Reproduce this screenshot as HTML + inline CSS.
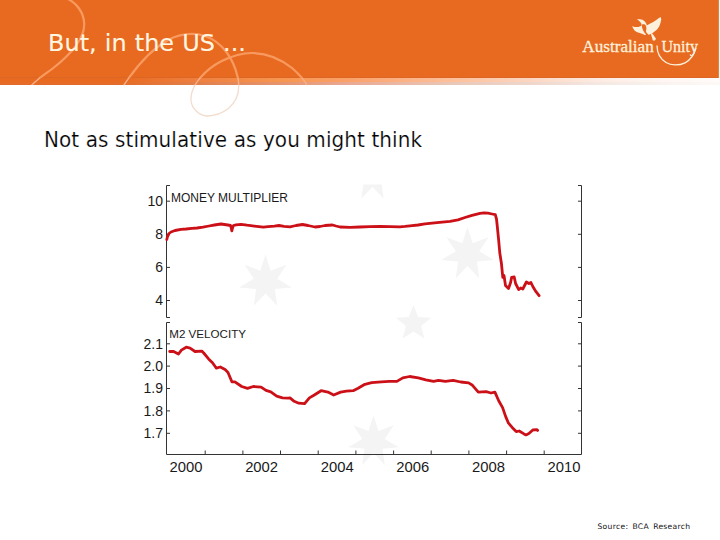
<!DOCTYPE html>
<html><head><meta charset="utf-8">
<style>
html,body{margin:0;padding:0;background:#fff;}
body{width:720px;height:540px;position:relative;overflow:hidden;}
#hdr{position:absolute;left:0;top:0;width:718px;height:78px;background:#e86a20;}
#band{position:absolute;left:0;top:78px;width:720px;height:4px;
 background:linear-gradient(90deg,#e86a20 0px,#e86a20 120px,#ef8040 200px,#f7964f 280px,#fa9f66 340px,#fcb084 400px,#fdc29e 460px,#fcd6c2 530px,#fdebe2 600px,#fef6f2 660px,#fffbf9 720px);}
#band2{position:absolute;left:0;top:82px;width:720px;height:3px;
 background:linear-gradient(90deg,#e56c28 0px,#e56c28 120px,#e2804c 200px,#e6946e 280px,#e9a690 340px,#eab8a4 400px,#eac9ba 460px,#eed6cc 530px,#f5e8e2 600px,#faf2ee 660px,#fdf9f7 720px);}
#hline{position:absolute;left:0;top:77px;width:718px;height:1px;background:#dc6626;}
#redge{position:absolute;left:718px;top:0;width:2px;height:78px;background:linear-gradient(90deg,#c98a5c 0,#c98a5c 1px,#fdf3da 1px);}
#title{position:absolute;left:48px;top:28px;font-family:"DejaVu Sans",sans-serif;font-size:23.5px;transform:scaleX(1.02);transform-origin:0 0;color:#fff6e2;-webkit-text-stroke:0.1px #fff6e2;word-spacing:0.5px;white-space:pre;line-height:30px;}
#sub{position:absolute;left:44px;top:127.8px;font-family:"DejaVu Sans",sans-serif;font-size:20px;letter-spacing:0.08px;transform:scaleY(1.025);transform-origin:0 18.9px;-webkit-text-stroke:0.2px #fff;color:#000;white-space:pre;line-height:24px;}
#src{position:absolute;left:597.5px;top:522.3px;font-family:"DejaVu Sans",sans-serif;font-size:7.6px;letter-spacing:0.3px;word-spacing:1.5px;color:#111;white-space:pre;line-height:10px;}
svg{position:absolute;left:0;top:0;}
</style></head><body>
<div id="hdr"></div>
<div id="band"></div>
<div id="band2"></div>
<div id="hline"></div>
<div id="redge"></div>
<svg id="deco" width="720" height="540" viewBox="0 0 720 540">
 <defs>
  <clipPath id="inH"><rect x="0" y="0" width="718" height="78"/></clipPath>
  <clipPath id="inB"><rect x="0" y="78" width="720" height="7"/></clipPath>
  <clipPath id="inW"><rect x="0" y="85" width="720" height="100"/></clipPath>
 </defs>
 <g fill="none" stroke-linecap="round">
  <g clip-path="url(#inH)" stroke="#f89a60" stroke-width="2.2">
   <path d="M68,-1 C76,3 84,12 84.2,24 C84.5,40 70,55 52,69 C44,75 36,80 31,86"/>
   <path d="M124,85 C134,70 150,50 168,40 C180,34 192,32 205,36 C222,42 234,58 238.3,80 C240,92 236,102 228.6,108.3 C222,113.5 214,116.2 206.4,116 C198,115 192,108 191.1,101.4 C190.5,94 193,87 198,80.6 C204,73 212,66 221.7,61.1 C232,56 242,53 252,53 C268,53 282,60 292,68 C299,74 304,80 307,85"/>
  </g>
  <g clip-path="url(#inB)" stroke="#f6b08a" stroke-width="1.4">
   <path d="M68,-1 C76,3 84,12 84.2,24 C84.5,40 70,55 52,69 C44,75 36,80 31,86"/><path d="M124,85 C134,70 150,50 168,40 C180,34 192,32 205,36 C222,42 234,58 238.3,80 C240,92 236,102 228.6,108.3 C222,113.5 214,116.2 206.4,116 C198,115 192,108 191.1,101.4 C190.5,94 193,87 198,80.6 C204,73 212,66 221.7,61.1 C232,56 242,53 252,53 C268,53 282,60 292,68 C299,74 304,80 307,85"/>
  </g>
  <g clip-path="url(#inW)" stroke="#f2dccd" stroke-width="1.3">
   <path d="M124,85 C134,70 150,50 168,40 C180,34 192,32 205,36 C222,42 234,58 238.3,80 C240,92 236,102 228.6,108.3 C222,113.5 214,116.2 206.4,116 C198,115 192,108 191.1,101.4 C190.5,94 193,87 198,80.6 C204,73 212,66 221.7,61.1 C232,56 242,53 252,53 C268,53 282,60 292,68 C299,74 304,80 307,85"/>
  </g>
 </g>
 <!-- logo -->
 <g fill="#fdf1dc">
  <polygon points="637.07,18.92 639.92,19.18 642.51,19.70 644.58,21.25 646.13,23.33 646.91,25.40 645.62,25.14 644.06,24.36 642.51,24.26 641.58,24.98 641.21,23.33 639.92,21.77 638.36,20.22"/>
  <polygon points="632.15,26.18 634.74,26.95 638.36,26.95 640.95,25.92 641.73,24.98 642.09,27.47 643.13,30.58 644.68,33.07 646.24,34.47 644.68,34.98 642.61,34.10 640.44,33.27 637.33,32.24 634.74,30.68 633.18,28.61"/>
  <polygon points="646.65,25.40 649.76,23.84 652.87,22.29 655.98,20.22 658.57,18.15 660.64,17.01 661.26,19.18 660.54,22.81 659.19,26.44 657.12,29.54 654.53,31.62 652.46,33.17 650.80,33.69 648.73,31.10 647.07,28.51"/>
  <polygon points="650.80,33.17 652.46,33.69 653.91,35.76 655.98,38.87 654.94,40.53 652.87,40.53 652.09,37.83 651.32,35.24"/>
  <polygon points="645.10,24.36 647.27,25.81 649.87,31.10 651.42,33.79 648.73,34.83 646.55,32.76 645.51,29.54"/>
  <polygon points="642.40,25.30 644.48,24.47 646.03,25.81 646.45,29.03 645.72,31.10 644.17,30.48 642.92,28.51" fill="#e86a20"/>
 </g>
 <path d="M657,45.5 C657,53 660.5,59 666,62.5 C671,65.6 679,65.8 685,62.8 C690,60.2 694,55.5 696,48" fill="none" stroke="#fdf1dc" stroke-width="1.3"/>
 <g font-family="Liberation Serif, serif" font-size="17" fill="#fdf1dc" stroke="#fdf1dc" stroke-width="0.3">
  <text x="582.3" y="52.2" textLength="71.5" lengthAdjust="spacingAndGlyphs">Australian</text>
  <text x="661.5" y="52.2" textLength="36.5" lengthAdjust="spacingAndGlyphs">Unity</text>
 </g>
</svg>
<svg id="chart" width="720" height="540" viewBox="0 0 720 540">
<defs><clipPath id="cc"><rect x="130" y="184.5" width="460" height="300"/></clipPath></defs>
<g fill="#f4f4f4" clip-path="url(#cc)">
<polygon points="265.5,254.5 270.7,270.7 286.6,264.7 277.2,278.8 291.8,287.5 274.9,289.0 277.2,305.8 265.5,293.5 253.8,305.8 256.1,289.0 239.2,287.5 253.8,278.8 244.4,264.7 260.3,270.7"/>
<polygon points="467.5,227.0 472.7,243.2 488.6,237.2 479.2,251.3 493.8,260.0 476.9,261.5 479.2,278.3 467.5,266.0 455.8,278.3 458.1,261.5 441.2,260.0 455.8,251.3 446.4,237.2 462.3,243.2"/>
<polygon points="413.5,305.0 418.2,317.0 431.1,317.8 421.1,326.0 424.4,338.5 413.5,331.5 402.6,338.5 405.9,326.0 395.9,317.8 408.8,317.0"/>
<polygon points="373.5,415.5 378.5,431.1 393.8,425.3 384.7,438.9 398.8,447.3 382.5,448.7 384.8,464.9 373.5,453.0 362.2,464.9 364.5,448.7 348.2,447.3 362.3,438.9 353.2,425.3 368.5,431.1"/>
<polygon points="372.5,150.0 377.5,165.1 392.4,159.6 383.7,172.9 397.4,181.2 381.5,182.7 383.6,198.5 372.5,187.0 361.4,198.5 363.5,182.7 347.6,181.2 361.3,172.9 352.6,159.6 367.5,165.1"/>
</g>
<g fill="none" stroke="#333" stroke-width="1"><path d="M170.0,185.5 H166.5 V317.5 H170.0 M578.0,185.5 H581.5 V317.5 H578.0" /><path d="M166.5,201.2 H170.0 M581.5,201.2 H578.0"/><path d="M166.5,234.3 H170.0 M581.5,234.3 H578.0"/><path d="M166.5,267.4 H170.0 M581.5,267.4 H578.0"/><path d="M166.5,300.5 H170.0 M581.5,300.5 H578.0"/><path d="M170.0,322.5 H166.5 V454.5 H581.5 V322.5 H578.0"/><path d="M166.5,343.8 H170.0 M581.5,343.8 H578.0"/><path d="M166.5,366.1 H170.0 M581.5,366.1 H578.0"/><path d="M166.5,388.5 H170.0 M581.5,388.5 H578.0"/><path d="M166.5,410.9 H170.0 M581.5,410.9 H578.0"/><path d="M166.5,433.3 H170.0 M581.5,433.3 H578.0"/><path d="M205.2,454.5 V450.5"/><path d="M242.9,454.5 V450.5"/><path d="M280.5,454.5 V450.5"/><path d="M318.2,454.5 V450.5"/><path d="M355.9,454.5 V450.5"/><path d="M393.6,454.5 V450.5"/><path d="M431.2,454.5 V450.5"/><path d="M468.9,454.5 V450.5"/><path d="M506.6,454.5 V450.5"/><path d="M544.2,454.5 V450.5"/></g>
<g fill="none" stroke="#cc1018" stroke-width="2.8" stroke-linejoin="round" stroke-linecap="round">
<polyline points="166.8,239.5 167.5,236.5 169.0,233.5 171.0,232.0 175.0,230.5 181.0,229.4 186.0,229.0 192.0,228.3 197.0,228.0 203.0,227.2 209.0,226.0 214.4,225.0 221.0,224.0 227.8,225.0 230.5,225.5 231.3,228.0 231.8,230.8 232.5,228.0 233.5,225.5 236.0,224.8 241.0,224.3 247.0,225.2 254.4,226.1 263.3,227.2 268.0,226.6 274.4,226.1 279.0,225.5 284.0,226.3 290.0,226.8 296.0,225.5 302.5,224.5 308.0,225.5 315.0,227.0 320.0,226.5 325.0,225.5 332.5,225.0 336.0,226.0 340.0,227.0 350.0,227.3 360.0,227.0 370.0,226.6 380.0,226.3 390.0,226.6 400.0,226.8 405.0,226.4 410.0,225.8 418.0,225.0 425.0,223.8 437.0,222.6 450.0,221.3 458.0,219.8 465.0,217.5 472.0,215.3 480.0,213.3 484.0,212.8 488.0,213.2 492.0,214.0 495.3,214.7 496.5,219.0 497.3,226.5 498.7,240.7 499.8,253.0 501.4,263.2 502.8,277.4 504.0,275.4 505.5,285.6 508.5,288.6 510.6,282.5 511.6,277.4 514.2,277.0 515.6,283.5 518.7,289.6 520.7,288.0 522.8,289.0 526.4,282.0 528.9,283.5 530.9,282.5 533.4,287.6 536.0,291.7 539.1,295.7"/>
<polyline points="169.7,351.5 173.6,351.5 178.5,354.0 181.4,350.1 186.2,347.2 190.1,348.2 195.0,351.5 201.8,351.1 203.7,353.0 208.6,358.9 212.5,362.8 216.4,368.2 220.3,367.0 225.1,369.6 228.0,372.5 231.9,381.8 234.9,381.8 241.7,386.5 247.5,388.4 253.3,386.5 261.1,387.1 266.0,390.4 270.8,391.9 276.7,396.2 282.5,397.8 288.3,398.2 290.0,397.9 294.2,401.3 298.7,403.2 304.6,403.7 309.4,397.9 314.3,395.0 321.1,390.7 327.9,392.1 333.7,395.0 340.6,392.1 346.4,391.1 353.2,390.7 358.1,388.2 364.9,384.3 371.7,382.7 381.4,381.8 389.2,381.4 396.9,381.4 402.8,377.9 409.6,376.5 418.3,377.9 425.8,379.8 433.6,381.4 438.5,380.4 445.3,381.4 453.1,380.4 460.8,382.0 468.6,382.9 472.5,385.3 478.3,392.1 486.1,391.7 491.0,393.0 494.9,392.1 498.7,400.8 502.6,407.6 505.6,416.4 508.5,423.2 512.4,427.7 516.2,431.6 519.2,431.0 524.0,433.9 526.0,434.9 528.9,433.5 532.8,430.0 536.7,429.6 537.6,430.4"/>
</g>
<g font-family="Liberation Sans, sans-serif" fill="#1a1a1a">
<text x="171" y="201.7" font-size="12">MONEY MULTIPLIER</text>
<text x="169.3" y="337.5" font-size="11.6">M2 VELOCITY</text>
<text x="163" y="206.0" font-size="14" text-anchor="end">10</text>
<text x="163" y="239.1" font-size="14" text-anchor="end">8</text>
<text x="163" y="272.2" font-size="14" text-anchor="end">6</text>
<text x="163" y="305.3" font-size="14" text-anchor="end">4</text>
<text x="163" y="348.6" font-size="14" text-anchor="end">2.1</text>
<text x="163" y="370.9" font-size="14" text-anchor="end">2.0</text>
<text x="163" y="393.3" font-size="14" text-anchor="end">1.9</text>
<text x="163" y="415.7" font-size="14" text-anchor="end">1.8</text>
<text x="163" y="438.1" font-size="14" text-anchor="end">1.7</text>
<text x="186.0" y="471.8" font-size="14.8" text-anchor="middle">2000</text>
<text x="261.6" y="471.8" font-size="14.8" text-anchor="middle">2002</text>
<text x="337.2" y="471.8" font-size="14.8" text-anchor="middle">2004</text>
<text x="412.8" y="471.8" font-size="14.8" text-anchor="middle">2006</text>
<text x="488.4" y="471.8" font-size="14.8" text-anchor="middle">2008</text>
<text x="564.0" y="471.8" font-size="14.8" text-anchor="middle">2010</text>
</g>
</svg>
<div id="title">But, in the US ...</div>
<div id="sub">Not as stimulative as you might think</div>
<div id="src">Source: BCA Research</div>
</body></html>
